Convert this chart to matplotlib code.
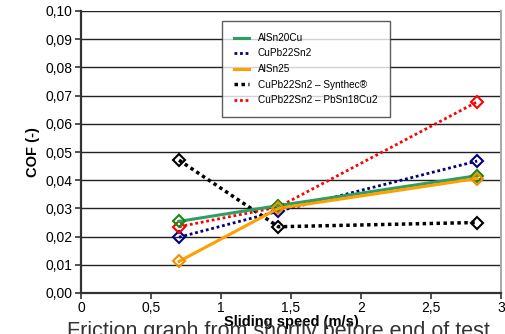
import matplotlib
matplotlib.use("Agg")
import matplotlib.pyplot as plt
from matplotlib.lines import Line2D

plt.rcParams['font.family'] = ['Liberation Sans', 'DejaVu Sans']

# Valeurs
speed = [0.7, 1.41, 2.83]
alsn20cu = [0.0254, 0.031, 0.0416]
cupb22sn2 = [0.0198, 0.029, 0.0468]
alsn25 = [0.0112, 0.030, 0.0406]
synthec = [0.0471, 0.0235, 0.025]
pbsn18cu2 = [0.0235, 0.0305, 0.0678]

labels = ['AlSn20Cu', 'CuPb22Sn2', 'AlSn25',
          'CuPb22Sn2 \u2013 Synthec\u00ae', 'CuPb22Sn2 \u2013 PbSn18Cu2']
xticks = [0, 0.5, 1, 1.5, 2, 2.5, 3]
xticklabels = ['0', '0,5', '1', '1,5', '2', '2,5', '3']
yticks = [i / 100 for i in range(11)]
yticklabels = ['0,%02d' % i if i < 10 else '0,10' for i in range(11)]

fig = plt.figure(figsize=(5.05, 3.34), dpi=100)
ax = fig.add_axes([81/505, 1 - 293/334, 420/505, 282/334])

for y in yticks[1:]:
    ax.axhline(y, color='#222222', lw=1.0, zorder=1)

dot = (0, (1, 1))
styles = [
    dict(color='#2e9e64', lw=2.2, ls='-', mec='#138a13', z=4),
    dict(color='#000080', lw=2.0, ls=dot, mec='#000080', z=3),
    dict(color='#ffa000', lw=2.2, ls='-', mec='#f09000', z=5),
    dict(color='black', lw=2.5, ls=dot, mec='black', z=3),
    dict(color='#ff0000', lw=2.0, ls=dot, mec='#ff0000', z=3),
]
series = [alsn20cu, cupb22sn2, alsn25, synthec, pbsn18cu2]

handles = []
for vals, st, lab in zip(series, styles, labels):
    ax.plot(speed, vals, color=st['color'], lw=st['lw'], ls=st['ls'], marker='D',
            ms=6, mfc='none', mec=st['mec'], mew=1.5, zorder=st['z'])
    handles.append(Line2D([], [], color=st['color'], lw=st['lw'], ls=st['ls']))

ax.set_xlim(0, 3)
ax.set_ylim(0, 0.1)
ax.set_xticks(xticks)
ax.set_xticklabels(xticklabels, fontsize=10)
ax.set_yticks(yticks)
ax.set_yticklabels(yticklabels, fontsize=10)
ax.tick_params(axis='both', direction='out', length=4, width=1.2, colors='#333333',
               labelcolor='black', pad=2)

for s in ['left', 'bottom']:
    ax.spines[s].set_color('#333333')
    ax.spines[s].set_linewidth(1.6)
ax.spines['top'].set_visible(False)
ax.spines['right'].set_color('#aaaaaa')
ax.spines['right'].set_linewidth(1.5)

ax.set_xlabel('Sliding speed (m/s)', fontsize=10.5, fontweight='bold', labelpad=0)
ax.set_ylabel('COF (-)', fontsize=10.5, fontweight='bold', labelpad=4)

leg = ax.legend(handles, labels, loc='upper left', bbox_to_anchor=(136/420, 1 - 5/282),
                fontsize=7.2, frameon=True, fancybox=False, handlelength=1.5,
                borderpad=1.2, labelspacing=0.55, handletextpad=0.9)
leg.get_frame().set_edgecolor('#333333')
leg.get_frame().set_linewidth(1.0)
leg.set_zorder(10)

fig.text(67/505, 1 - 342/334, 'Friction graph from shortly before end of test',
         fontsize=15.5, color='#333333', ha='left', va='bottom')

fig.savefig('out.png', dpi=100)
